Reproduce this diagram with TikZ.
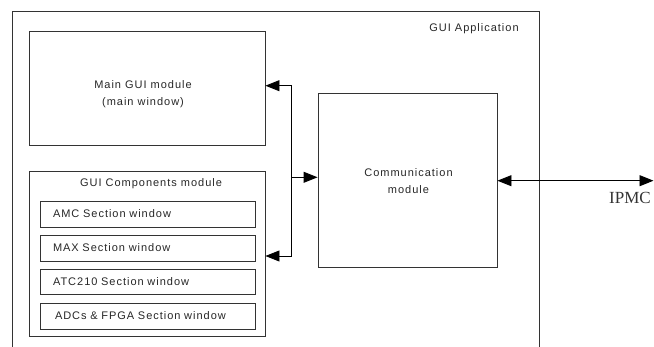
\documentclass[tikz,border=0pt]{standalone}
\usepackage{fontspec}
\setmainfont{Liberation Serif}
\newfontfamily\guifont[LetterSpace=9]{Liberation Sans}
\usetikzlibrary{arrows.meta}
\begin{document}
\begin{tikzpicture}[x=1pt,y=-1pt,
  box/.style={draw=black!80,line width=0.9pt,rectangle,inner sep=0pt},
  gtext/.style={font=\guifont\fontsize{11}{17}\selectfont,text=black!85,align=center,inner sep=0pt},
  winbox/.style={box,minimum width=215pt,minimum height=26pt,text width=189pt,inner xsep=13pt,align=left,font=\guifont\fontsize{11}{17}\selectfont,text=black!85},
  conn/.style={draw=black,line width=0.9pt},
  tip/.style={-{Triangle[length=14pt,width=11pt]}},
  tips/.style={{Triangle[length=14pt,width=11pt]}-{Triangle[length=14pt,width=11pt]}}]
\useasboundingbox (0,0) rectangle (654,347);
% outer GUI application frame (open at bottom)
\draw[draw=black!80,line width=0.9pt] (12,348) -- (12,11) -- (539,11) -- (539,348);
\node[gtext] (app) at (474,29) {GUI Application};
% main GUI
\node[box,minimum width=236pt,minimum height=114pt] (main) at (147,88) {};
\node[gtext] (maintext) at (143,94.5) {Main GUI module\\(main window)};
% GUI components
\node[box,minimum width=236pt,minimum height=165pt] (comp) at (147,253.5) {};
\node[gtext] (comptitle) at (151,184) {GUI Components module};
\node[winbox] (amc) at (147.5,214) {AMC Section window};
\node[winbox] (max) at (147.5,248) {MAX Section window};
\node[winbox,minimum height=25pt] (atc) at (147.5,281.5) {ATC210 Section window};
\node[winbox,inner xsep=15pt,text width=185pt] (adc) at (147.5,316) {ADCs \& FPGA Section window};
% communication module
\node[box,minimum width=179pt,minimum height=174pt] (comm) at (407.5,180) {};
\node[gtext,text depth=0pt] (commtext) at (408.5,181) {Communication\\module};
% bus
\coordinate (bustop) at (291.7,85.7);
\coordinate (busbot) at (291.7,256);
\coordinate (busmid) at (291.7,177.3);
\draw[conn,tip] (busbot) -- (bustop) -- (main.east |- bustop);
\draw[conn,tip] (bustop) -- (busbot) -- (comp.east |- busbot);
\draw[conn,tip] (busmid) -- (comm.west |- busmid);
% IPMC link
\coordinate (ipmcend) at (653.5,180.7);
\draw[conn,tips] (comm.east |- ipmcend) -- (ipmcend);
\node[font=\fontsize{17}{20}\selectfont,text=black!80,inner sep=0pt] (ipmc) at (630,198) {IPMC};
\end{tikzpicture}
\end{document}
